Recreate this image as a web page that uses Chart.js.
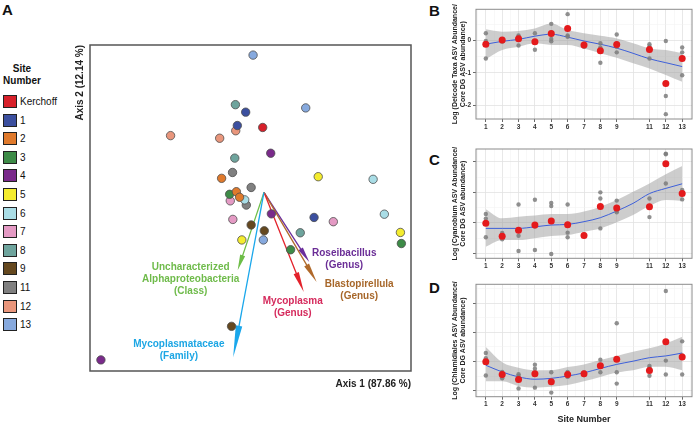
<!DOCTYPE html>
<html><head><meta charset="utf-8">
<script src="https://cdn.jsdelivr.net/npm/chart.js@4.4.1/dist/chart.umd.min.js"></script>
<style>
html,body{margin:0;padding:0;background:#fff;width:696px;height:425px;overflow:hidden;font-family:"Liberation Sans",Arial,sans-serif;}
canvas{position:absolute;}
.letter{position:absolute;font-weight:bold;font-size:15px;line-height:15px;color:#111;}
.lgTitle{position:absolute;left:0;width:44px;text-align:center;font-weight:bold;font-size:10px;line-height:11.7px;color:#111;}
.lgRow{position:absolute;left:3px;height:13px;}
.lgSw{position:absolute;left:0;top:0;width:14px;height:13px;box-sizing:border-box;border:1.5px solid #222;}
.lgTx{position:absolute;left:17px;top:0;font-size:10px;line-height:13px;color:#111;white-space:nowrap;}
</style></head><body>
<div class="letter" style="left:2px;top:2px">A</div>
<div class="letter" style="left:429px;top:3px">B</div>
<div class="letter" style="left:429px;top:152px">C</div>
<div class="letter" style="left:429px;top:280px">D</div>
<div class="lgTitle" style="top:63px">Site<br>Number</div>
<div id="legend"></div>
<canvas id="pcoa" style="left:60px;top:40px" width="356" height="360"></canvas>
<canvas id="chartB" style="left:446px;top:0px" width="250" height="135"></canvas>
<canvas id="chartC" style="left:446px;top:140px" width="250" height="135"></canvas>
<canvas id="chartD" style="left:446px;top:275px" width="250" height="150"></canvas>
<script>
// ---------- Panel A data ----------
const siteLabels = ['Kerchoff','1','2','3','4','5','6','7','8','9','11','12','13'];
const siteColors = ['#d7202a','#3b4f9f','#e07a2c','#3d8b47','#7a2a8b','#f4ec2e','#a9dde6','#e49ac4','#6ea49d','#65481f','#808080','#e9967c','#86a9de'];

const pcoaSite = ['Kerchoff','1','1','1','2','2','2','3','3','3','4','4','4','5','5','5','6','6','6','7','7','7','8','8','8','9','9','9','11','11','11','12','12','12','13','13','13'];
const pcoaAxis1 = [-0.004, -0.057,-0.083,0.156, -0.132,-0.086,-0.076, -0.107,0.428,0.083, 0.021,0.023,-0.508, 0.169,0.425,-0.069, 0.340,-0.060,0.375, -0.105,-0.097,0.216, -0.089,-0.091,0.113, -0.040,0.001,-0.101, -0.098,-0.040,-0.055, -0.088,-0.291,-0.138, -0.034,0.130,-0.002];
const pcoaAxis2 = [0.199, 0.246,0.205,-0.077, 0.043,0.002,-0.015, -0.006,-0.157,-0.176, 0.120,-0.066,-0.514, 0.048,-0.123,-0.146, 0.040,-0.023,-0.067, -0.026,-0.083,-0.090, 0.269,0.105,-0.124, -0.100,-0.118,-0.411, 0.061,0.015,-0.039, 0.189,0.174,0.166, 0.421,0.259,-0.146];

const vectorLabels = [['Roseibacillus','(Genus)'],['Blastopirellula','(Genus)'],['Mycoplasma','(Genus)'],['Uncharacterized','Alphaproteobacteria','(Class)'],['Mycoplasmataceae','(Family)']];
const vectorAxis1 = [0.141, 0.164, 0.124, -0.082, -0.096];
const vectorAxis2 = [-0.214, -0.275, -0.306, -0.239, -0.506];
const vectorColors = ['#6a2d9c','#b0692a','#e3222b','#6dbd47','#1aa7eb'];
const vectorTextColors = ['#6a2d96','#a7672a','#d52a5c','#6fbb4b','#1ca6e4'];
const vectorLabelOffsets = [[35,-8.4],[42.6,2.3],[-11,9.3],[-47,-2.7],[-54.3,-12.6]];

// ---------- Panels B-D data ----------
const trendSites = [1,2,3,4,5,6,7,8,9,11,12,13];
const fitSites = [1,2,3,4,5,6,7,8,9,10,11,12,13];
const xTickLabels = ['1','2','3','4','5','6','7','8','9','11','12','13'];

const deicodeMean = [-0.12,0.01,0.05,-0.04,0.21,0.37,-0.14,-0.32,-0.13,-0.28,-1.33,-0.56];
const deicodeReps = [[0.22,-0.02,-0.56],[0.03,-0.04,0.02],[0.15,0.11,-0.16],[0.22,-0.05,-0.29],[0.51,0.04,-0.03],[0.81,0.15,0.11],[-0.2,-0.12,-0.1],[-0.09,-0.22,-0.69],[0.18,-0.2,-0.37],[-0.12,-0.19,-0.56],[-0.02,-1.72,-2.28],[-0.22,-0.37,-1.08]];
const deicodeFit = [-0.12,-0.03,0.03,0.13,0.19,0.10,-0.02,-0.12,-0.24,-0.40,-0.57,-0.69,-0.81];
const deicodeUpper = [0.34,0.27,0.29,0.37,0.52,0.32,0.22,0.14,0.06,-0.09,-0.25,-0.30,-0.40];
const deicodeLower = [-0.58,-0.30,-0.20,-0.09,-0.14,-0.14,-0.25,-0.40,-0.54,-0.71,-0.87,-1.07,-1.28];

const cyanoMean = [-1.01,-1.44,-1.24,-1.07,-0.94,-1.06,-1.41,-0.46,-0.51,-0.47,0.94,-0.04];
const cyanoReps = [[-0.71,-0.86,-1.47],[-1.33,-1.44,-1.54],[-0.40,-1.42,-1.92],[-0.24,-1.12,-1.89],[-0.35,-0.45,-2.02],[-0.40,-1.32,-1.47],[-1.38,-1.41,-1.44],[0.00,-0.20,-1.18],[-0.27,-0.60,-0.65],[-0.20,-0.46,-0.81],[1.25,1.27,0.29],[0.08,-0.04,-0.23]];
const cyanoFit = [-1.18,-1.18,-1.18,-1.13,-1.07,-1.05,-0.96,-0.83,-0.61,-0.36,-0.04,0.13,0.28];
const cyanoUpper = [-0.55,-0.85,-0.80,-0.76,-0.71,-0.71,-0.63,-0.47,-0.25,0.02,0.29,0.59,0.86];
const cyanoLower = [-1.78,-1.56,-1.56,-1.50,-1.43,-1.40,-1.29,-1.18,-0.98,-0.74,-0.45,-0.25,-0.28];

const chlamMean = [-0.01,-0.45,-0.62,-0.42,-0.70,-0.45,-0.42,-0.15,0.08,-0.31,0.68,0.15];
const chlamReps = [[0.29,0.11,-0.48],[-0.36,-0.50,-0.58],[-0.44,-0.50,-0.93],[-0.11,-0.25,-0.90],[-0.37,-0.68,-1.07],[-0.36,-0.42,-0.53],[-0.38,-0.42,-0.47],[0.06,-0.14,-0.37],[1.31,-0.37,-0.76],[-0.15,-0.21,-0.49],[2.42,0.03,-0.45],[0.69,0.21,-0.45]];
const chlamFit = [-0.13,-0.36,-0.53,-0.61,-0.58,-0.50,-0.39,-0.24,-0.10,0.01,0.13,0.19,0.29];
const chlamUpper = [0.50,-0.03,-0.22,-0.30,-0.30,-0.19,-0.10,0.05,0.19,0.33,0.45,0.62,0.85];
const chlamLower = [-0.68,-0.68,-0.84,-0.90,-0.87,-0.81,-0.68,-0.53,-0.38,-0.30,-0.18,-0.18,-0.30];

// ---------- common ----------
Chart.defaults.font.family = '"Liberation Sans", Arial, sans-serif';
Chart.defaults.color = '#222';

// Legend (HTML)
const lg = document.getElementById('legend');
siteLabels.forEach((s,i)=>{
  const row = document.createElement('div');
  row.className = 'lgRow';
  row.style.top = (95 + i*18.6) + 'px';
  row.innerHTML = '<div class="lgSw" style="background:'+siteColors[i]+'"></div><div class="lgTx">'+s+'</div>';
  lg.appendChild(row);
});

const boxPlugin = {
  id:'boxPlugin',
  afterDraw(chart, args, opts){
    const a = chart.chartArea, c = chart.ctx;
    c.save(); c.strokeStyle = opts.color; c.lineWidth = opts.width;
    c.strokeRect(a.left, a.top, a.right-a.left, a.bottom-a.top);
    c.restore();
  }
};

// ---------- Panel A ----------
const arrowPlugin = {
  id:'arrowPlugin',
  beforeDatasetsDraw(chart){
    const xs = chart.scales.x, ys = chart.scales.y, c = chart.ctx;
    const x0 = xs.getPixelForValue(0), y0 = ys.getPixelForValue(0);
    vectorAxis1.forEach((vx,i)=>{
      const x1 = xs.getPixelForValue(vx), y1 = ys.getPixelForValue(vectorAxis2[i]);
      const dx = x1-x0, dy = y1-y0, len = Math.hypot(dx,dy);
      const ux = dx/len, uy = dy/len;
      const head = Math.max(12, 0.19*len), hw = 2 + head*0.04;
      const bx = x1 - ux*head, by = y1 - uy*head;
      c.save();
      c.strokeStyle = vectorColors[i]; c.fillStyle = vectorColors[i]; c.lineWidth = 1.3;
      c.beginPath(); c.moveTo(x0,y0); c.lineTo(bx+ux*2,by+uy*2); c.stroke();
      c.beginPath(); c.moveTo(x1,y1); c.lineTo(bx - uy*hw, by + ux*hw); c.lineTo(bx + uy*hw, by - ux*hw); c.closePath(); c.fill();
      c.restore();
    });
  },
  afterDatasetsDraw(chart){
    const xs = chart.scales.x, ys = chart.scales.y, c = chart.ctx;
    c.save();
    c.font = 'bold 10px "Liberation Sans", Arial, sans-serif';
    c.textAlign = 'center'; c.textBaseline = 'middle';
    vectorAxis1.forEach((vx,i)=>{
      const x1 = xs.getPixelForValue(vx), y1 = ys.getPixelForValue(vectorAxis2[i]);
      const [ox,oy] = vectorLabelOffsets[i];
      c.fillStyle = vectorTextColors[i];
      vectorLabels[i].forEach((t,k)=> c.fillText(t, x1+ox, y1+oy+k*12));
    });
    c.restore();
  }
};

const aDatasets = siteLabels.map((s,i)=>({
  label:s,
  data: pcoaSite.map((p,j)=> p===s ? {x:pcoaAxis1[j], y:pcoaAxis2[j]} : null).filter(Boolean),
  backgroundColor: siteColors[i], borderColor:'#4d4d4d', borderWidth:0.8, pointRadius:4.2
}));

new Chart(document.getElementById('pcoa'), {
  type:'scatter',
  data:{datasets:aDatasets},
  options:{
    responsive:false, animation:false, events:[],
    layout:{padding:{top:4,right:5,left:0,bottom:0}},
    plugins:{legend:{display:false}, tooltip:{enabled:false}, boxPlugin:{color:'#555', width:1.5}},
    scales:{
      x:{type:'linear', min:-0.542, max:0.458, grid:{display:false}, border:{display:false}, ticks:{display:false},
         afterFit:s=>{s.height=29;},
         title:{display:true, text:'Axis 1 (87.86 %)', align:'end', color:'#222', font:{size:10, weight:'bold', lineHeight:1.2}, padding:{top:0,bottom:10}}},
      y:{type:'linear', min:-0.548, max:0.452, grid:{display:false}, border:{display:false}, ticks:{display:false},
         afterFit:s=>{s.width=30;},
         title:{display:true, text:'Axis 2 (12.14 %)', align:'end', color:'#222', font:{size:10, weight:'bold', lineHeight:1.2}, padding:{top:14,bottom:0}}}
    }
  },
  plugins:[arrowPlugin, boxPlugin]
});

// ---------- Panels B-D ----------
function trendChart(id, meanArr, repArr, fitArr, upperArr, lowerArr, yMin, yMax, titleLines, showYLabels, xTitle, padTop, xH){
  const reps = [];
  repArr.forEach((r,i)=> r.forEach(v=> reps.push({x:trendSites[i], y:v})));
  const isMajor = v => Math.abs(v - Math.round(v)) < 1e-6;
  const xLabelled = v => isMajor(v) && trendSites.includes(Math.round(v));
  new Chart(document.getElementById(id), {
    type:'scatter',
    data:{datasets:[
      {data: trendSites.map((s,i)=>({x:s, y:meanArr[i]})), backgroundColor:'#e41a1c', borderWidth:0, pointRadius:3.5},
      {data: reps, backgroundColor:'rgba(125,125,125,0.85)', borderWidth:0, pointRadius:2.2},
      {data: fitSites.map((s,i)=>({x:s, y:fitArr[i]})), showLine:true, borderColor:'#3d5fd9', borderWidth:1, pointRadius:0, cubicInterpolationMode:'monotone', fill:false},
      {data: fitSites.map((s,i)=>({x:s, y:upperArr[i]})), showLine:true, borderWidth:0, borderColor:'rgba(0,0,0,0)', pointRadius:0, cubicInterpolationMode:'monotone', fill:'+1', backgroundColor:'rgba(155,155,155,0.5)'},
      {data: fitSites.map((s,i)=>({x:s, y:lowerArr[i]})), showLine:true, borderWidth:0, borderColor:'rgba(0,0,0,0)', pointRadius:0, cubicInterpolationMode:'monotone', fill:false}
    ]},
    options:{
      responsive:false, animation:false, events:[],
      layout:{padding:{top:padTop, right:2, left:0, bottom:0}},
      plugins:{legend:{display:false}, tooltip:{enabled:false}, boxPlugin:{color:'#8c8c8c', width:1}},
      scales:{
        x:{type:'linear', min:0.4, max:13.6, border:{display:false},
          afterFit:s=>{s.height=xH;},
          ticks:{stepSize:0.5, includeBounds:false, autoSkip:false, maxRotation:0, padding:1, color:'#333',
            font:{size:6.5, weight:'bold'},
            callback:v=> xLabelled(v) ? String(Math.round(v)) : ''},
          grid:{tickLength:3,
            color:ctx=>{const v=ctx.tick.value; if (Math.abs(v-9.5)<1e-6||Math.abs(v-10.5)<1e-6) return 'rgba(0,0,0,0)'; return isMajor(v)?'#e2e2e2':'#f0f0f0';},
            lineWidth:ctx=> isMajor(ctx.tick.value)?0.8:0.5,
            tickColor:ctx=> xLabelled(ctx.tick.value)?'#444':'rgba(0,0,0,0)'},
          title:{display:!!xTitle, text:xTitle||'', color:'#222', font:{size:9, weight:'bold', lineHeight:1.2}, padding:{top:0,bottom:0}}
        },
        y:{type:'linear', min:yMin, max:yMax, border:{display:false},
          afterFit:s=>{s.width=30;},
          ticks:{stepSize:0.5, includeBounds:false, padding:2, color:'#333', font:{size:6.5, weight:'bold'},
            callback:v=> (showYLabels && isMajor(v)) ? String(Math.round(v)) : ''},
          grid:{tickLength:3,
            color:ctx=> isMajor(ctx.tick.value)?'#e2e2e2':'#f0f0f0',
            lineWidth:ctx=> isMajor(ctx.tick.value)?0.8:0.5,
            tickColor:ctx=> isMajor(ctx.tick.value)?'#444':'rgba(0,0,0,0)'},
          title:{display:true, text:titleLines, color:'#222', font:{size:7, weight:'bold', lineHeight:1.1}, padding:{top:5.2,bottom:0}}
        }
      }
    },
    plugins:[boxPlugin]
  });
}

trendChart('chartB', deicodeMean, deicodeReps, deicodeFit, deicodeUpper, deicodeLower, -2.43, 0.96,
  ['Log (Deicode Taxa ASV Abundance/','Core DG ASV abundance)'], true, null, 9.3, 16);
trendChart('chartC', cyanoMean, cyanoReps, cyanoFit, cyanoUpper, cyanoLower, -2.16, 1.42,
  ['Log (Cyanobium ASV Abundance/','Core DG ASV abundance)'], false, null, 9, 16.7);
trendChart('chartD', chlamMean, chlamReps, chlamFit, chlamUpper, chlamLower, -1.21, 2.65,
  ['Log (Chlamidiales ASV Abundance/','Core DG ASV abundance)'], false, 'Site Number', 9.3, 28.3);
</script>
</body></html>
